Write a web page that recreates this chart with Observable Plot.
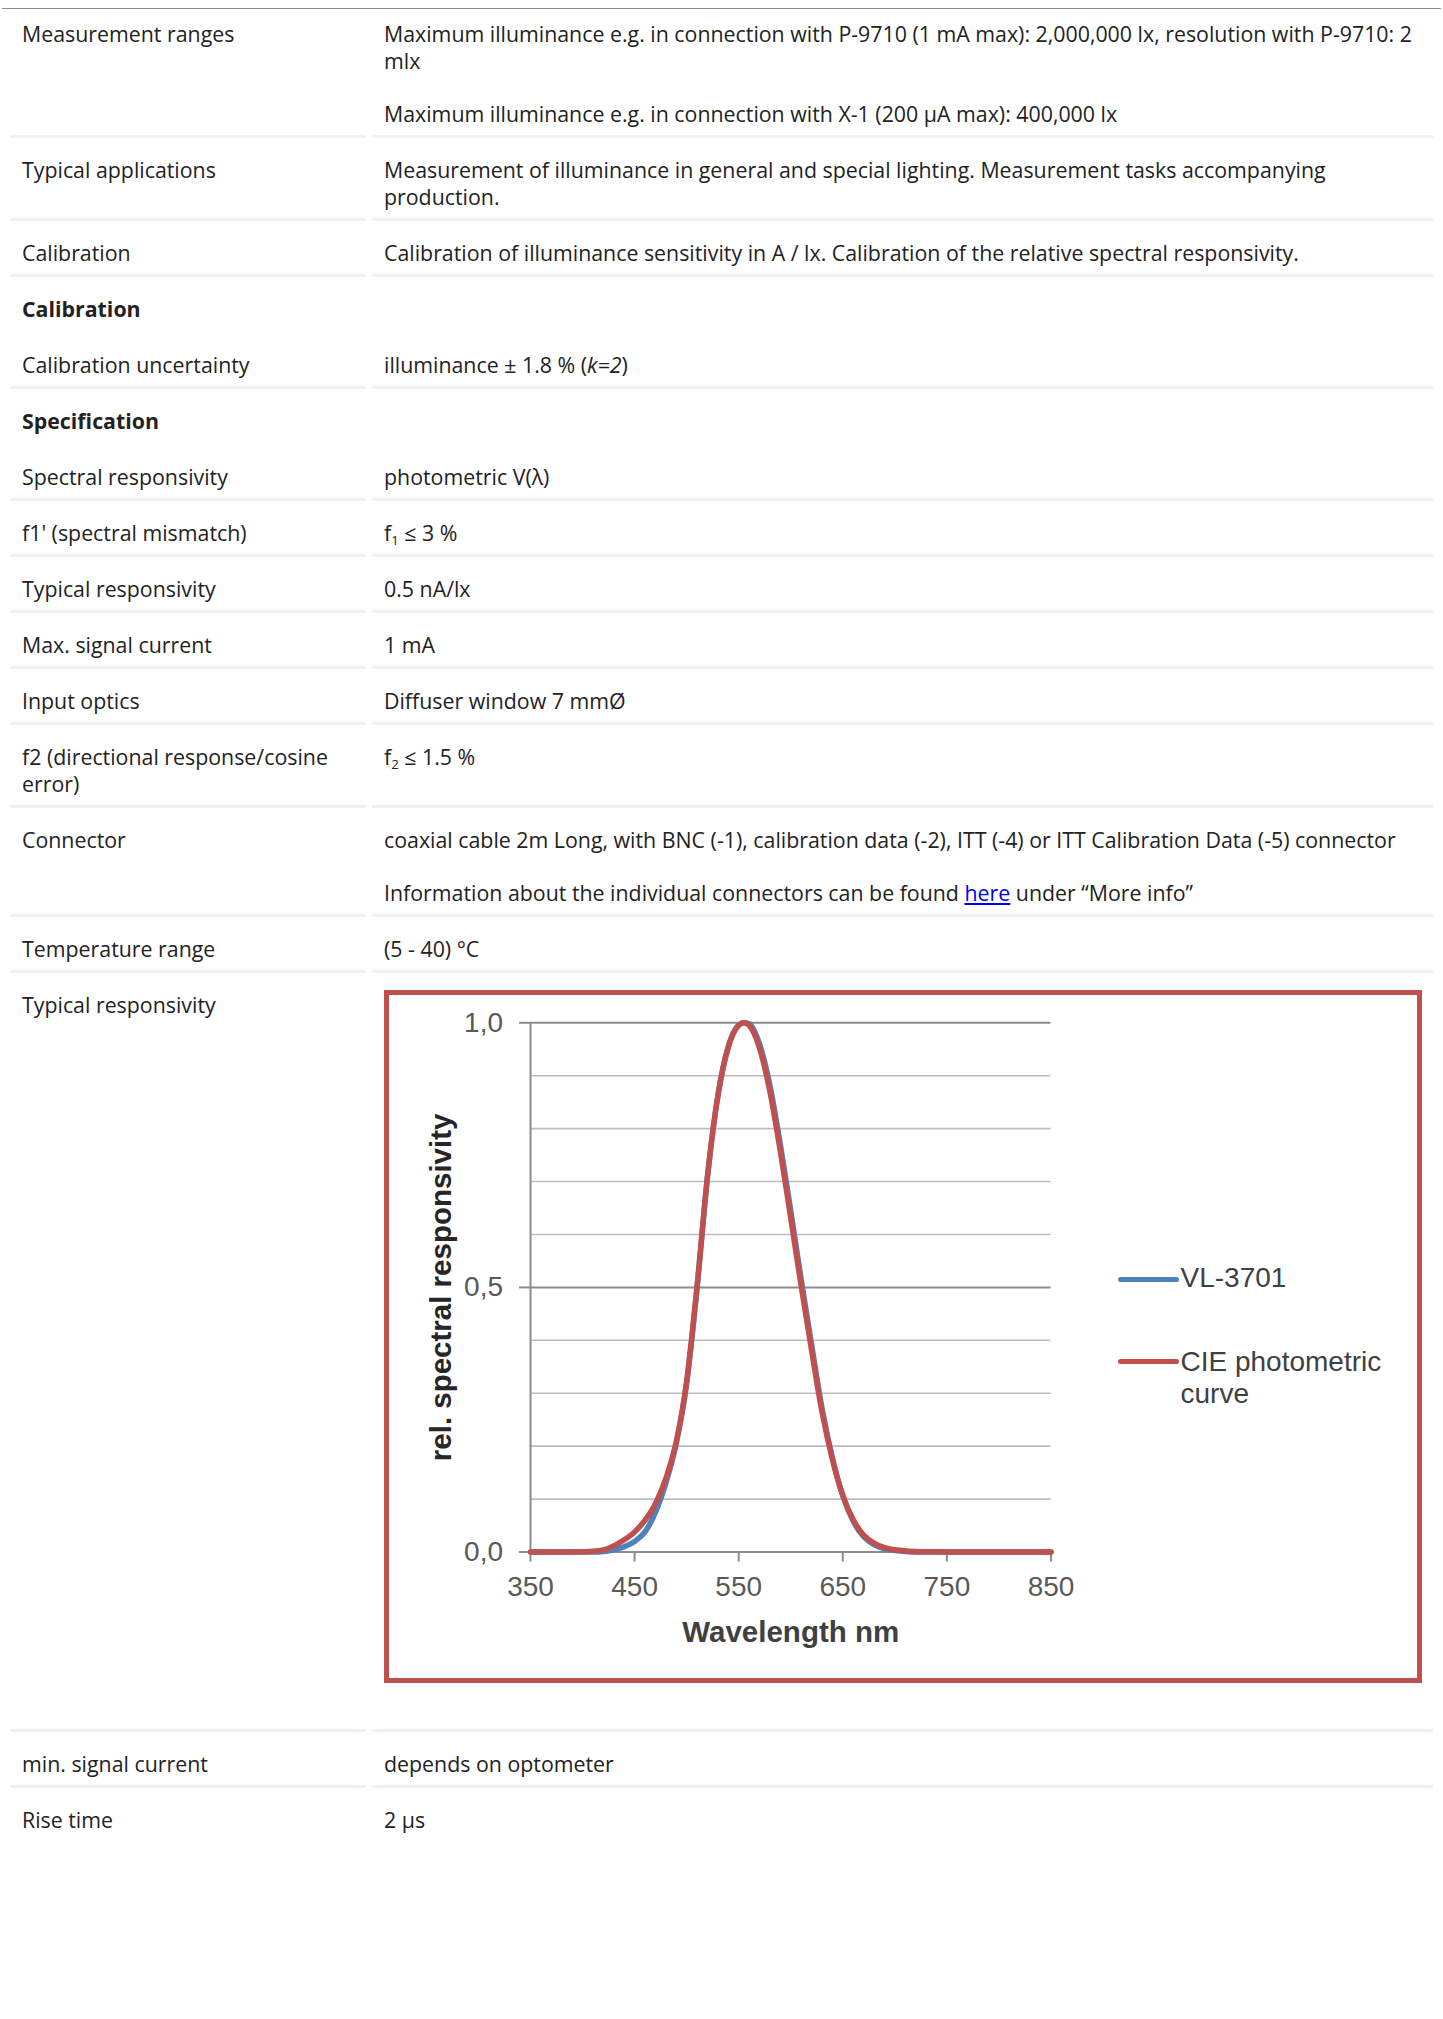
<!DOCTYPE html>
<html>
<head>
<meta charset="utf-8">
<script src="https://cdn.jsdelivr.net/npm/d3@7"></script>
<script src="https://cdn.jsdelivr.net/npm/@observablehq/plot@0.6"></script>
<style>
  html, body { margin: 0; padding: 0; background: #fff; }
  body { font-family: "Open Sans", "Noto Sans", sans-serif; font-size: 21.35px; line-height: 27px; color: #222; }
  #page { position: relative; width: 1443px; height: 2019px; }
  .topline { position: absolute; top: 7.5px; left: 2px; width: 1439px; height: 1px; background: #8c8c8c; }
  .rows { position: absolute; top: 1.5px; left: 10px; }
  .row { display: flex; gap: 6px; }
  .cell { padding: 18px 12px 8px 12px; border-bottom: 3px solid #eef2f6; box-sizing: border-box; }
  .c1 { width: 356px; }
  .c2 { width: 1061px; }
  .row.nob .cell { border-bottom-color: transparent; }
  .nw { white-space: nowrap; }
  p { margin: 0; }
  p + p { margin-top: 26px; }
  b { font-weight: 700; }
  sub { font-size: 0.62em; line-height: 0; vertical-align: -0.3em; }
  a { color: #0000ee; text-decoration: underline; }
  .chartcell { padding-top: 17.5px; }
  .box { position: relative; width: 1038px; height: 693px; border: 5px solid #c0504d; box-sizing: border-box; margin-bottom: 37.5px; }
  .box svg { position: absolute; left: 0; top: 0; }
  .leg-line { position: absolute; height: 5px; border-radius: 3px; }
  .leg-text { position: absolute; font-family: "Liberation Sans", Arial, sans-serif; font-size: 28px; line-height: 32px; color: #404040; white-space: nowrap; }
</style>
</head>
<body>
<div id="page">
  <div class="topline"></div>
  <div class="rows">
    <div class="row">
      <div class="cell c1">Measurement ranges</div>
      <div class="cell c2 nw"><p>Maximum illuminance e.g. in connection with P-9710 (1 mA max): 2,000,000 lx, resolution with P-9710: 2<br>mlx</p><p>Maximum illuminance e.g. in connection with X-1 (200 µA max): 400,000 lx</p></div>
    </div>
    <div class="row">
      <div class="cell c1">Typical applications</div>
      <div class="cell c2 nw">Measurement of illuminance in general and special lighting. Measurement tasks accompanying<br>production.</div>
    </div>
    <div class="row">
      <div class="cell c1">Calibration</div>
      <div class="cell c2">Calibration of illuminance sensitivity in A / lx. Calibration of the relative spectral responsivity.</div>
    </div>
    <div class="row nob">
      <div class="cell c1"><b>Calibration</b></div>
      <div class="cell c2"></div>
    </div>
    <div class="row">
      <div class="cell c1">Calibration uncertainty</div>
      <div class="cell c2">illuminance ± 1.8 % (<i>k=2</i>)</div>
    </div>
    <div class="row nob">
      <div class="cell c1"><b>Specification</b></div>
      <div class="cell c2"></div>
    </div>
    <div class="row">
      <div class="cell c1">Spectral responsivity</div>
      <div class="cell c2">photometric V(λ)</div>
    </div>
    <div class="row">
      <div class="cell c1">f1' (spectral mismatch)</div>
      <div class="cell c2">f<sub>1</sub> ≤ 3 %</div>
    </div>
    <div class="row">
      <div class="cell c1">Typical responsivity</div>
      <div class="cell c2">0.5 nA/lx</div>
    </div>
    <div class="row">
      <div class="cell c1">Max. signal current</div>
      <div class="cell c2">1 mA</div>
    </div>
    <div class="row">
      <div class="cell c1">Input optics</div>
      <div class="cell c2">Diffuser window 7 mmØ</div>
    </div>
    <div class="row">
      <div class="cell c1 nw">f2 (directional response/cosine<br>error)</div>
      <div class="cell c2">f<sub>2</sub> ≤ 1.5 %</div>
    </div>
    <div class="row">
      <div class="cell c1">Connector</div>
      <div class="cell c2 nw"><p>coaxial cable 2m Long, with BNC (-1), calibration data (-2), ITT (-4) or ITT Calibration Data (-5) connector</p><p>Information about the individual connectors can be found <a href="#">here</a> under “More info”</p></div>
    </div>
    <div class="row">
      <div class="cell c1">Temperature range</div>
      <div class="cell c2">(5 - 40) °C</div>
    </div>
    <div class="row">
      <div class="cell c1">Typical responsivity</div>
      <div class="cell c2 chartcell"><div class="box" id="chartbox"></div></div>
    </div>
    <div class="row">
      <div class="cell c1">min. signal current</div>
      <div class="cell c2">depends on optometer</div>
    </div>
    <div class="row nob">
      <div class="cell c1">Rise time</div>
      <div class="cell c2">2 µs</div>
    </div>
  </div>
</div>
<script>
// ---- data ----
const wavelengths = [350,360,370,380,390,400,410,420,430,440,450,460,470,480,490,500,510,520,530,540,550,555,560,570,580,590,600,610,620,630,640,650,660,670,680,690,700,710,720,730,740,750,760,770,780,800,850];
const vl3701 = [0,0,0,0,0,0,0,0.001,0.004,0.010,0.020,0.038,0.075,0.130,0.205,0.318,0.498,0.708,0.862,0.955,0.996,1.0,0.998,0.960,0.882,0.770,0.645,0.515,0.392,0.272,0.178,0.106,0.058,0.029,0.014,0.006,0.003,0.001,0,0,0,0,0,0,0,0,0];
const ciePhotometric = [0,0,0,0.00004,0.00012,0.0004,0.0012,0.004,0.0116,0.023,0.038,0.060,0.091,0.139,0.208,0.323,0.503,0.710,0.862,0.954,0.995,1.0,0.995,0.952,0.870,0.757,0.631,0.503,0.381,0.265,0.175,0.107,0.061,0.032,0.017,0.0082,0.0041,0.0021,0.00105,0.00052,0.00025,0.00012,0.00006,0.00003,0.000015,0,0];
const seriesNames = ["VL-3701", "CIE photometric curve"];
const seriesColors = ["#4f81bd", "#c0504d"];
const xTicks = [350, 450, 550, 650, 750, 850];
const yMajorTicks = [0, 0.5, 1.0];
const yMinorTicks = [0.1, 0.2, 0.3, 0.4, 0.6, 0.7, 0.8, 0.9];
const xTitle = "Wavelength nm";
const yTitle = "rel. spectral responsivity";

const data = [];
wavelengths.forEach((w, i) => data.push({series: seriesNames[0], w, v: vl3701[i]}));
wavelengths.forEach((w, i) => data.push({series: seriesNames[1], w, v: ciePhotometric[i]}));

const axisColor = "#8c8c8c";
const chart = Plot.plot({
  width: 1028,
  height: 683,
  marginLeft: 141,
  marginRight: 366.5,
  marginTop: 27.3,
  marginBottom: 126.5,
  style: {fontFamily: "'Liberation Sans', Arial, sans-serif", background: "transparent", overflow: "visible"},
  x: {domain: [xTicks[0], xTicks[xTicks.length - 1]]},
  y: {domain: [yMajorTicks[0], yMajorTicks[yMajorTicks.length - 1]]},
  color: {domain: seriesNames, range: seriesColors},
  marks: [
    Plot.ruleY(yMinorTicks, {stroke: "#bdbdbd", strokeWidth: 1.6}),
    Plot.ruleY(yMajorTicks, {stroke: axisColor, strokeWidth: 2}),
    Plot.ruleX([xTicks[0]], {stroke: axisColor, strokeWidth: 2}),
    Plot.axisX({ticks: xTicks, tickSize: 10, tickPadding: 14.5, fontSize: 28, fill: "#595959", stroke: axisColor, strokeWidth: 2, label: null, tickFormat: d => String(d)}),
    Plot.axisY({ticks: yMajorTicks, tickSize: 11, tickPadding: 16.5, fontSize: 28, fill: "#595959", stroke: axisColor, strokeWidth: 2, label: null, tickFormat: d => d.toFixed(1).replace(".", ",")}),
    Plot.line(data, {x: "w", y: "v", z: "series", stroke: "series", strokeWidth: 5.5, curve: "monotone-x", strokeLinejoin: "round", strokeLinecap: "round"}),
    Plot.text([xTitle], {text: d => d, frameAnchor: "bottom", textAnchor: "middle", lineAnchor: "middle", dy: 80.5, fontSize: 29.5, fontWeight: "bold", fill: "#404040"}),
    Plot.text([yTitle], {text: d => d, frameAnchor: "left", textAnchor: "middle", lineAnchor: "middle", dx: -88.5, rotate: -90, fontSize: 29.5, fontWeight: "bold", fill: "#262626"})
  ]
});
const box = document.getElementById("chartbox");
box.appendChild(chart);

// legend (HTML, beside the plot)
const legend = [
  {color: seriesColors[0], lineTop: 281.5, textTop: 267, html: "VL-3701"},
  {color: seriesColors[1], lineTop: 364.2, textTop: 351, html: "CIE photometric<br>curve"}
];
legend.forEach(l => {
  const line = document.createElement("div");
  line.className = "leg-line";
  line.style.left = "728.5px";
  line.style.width = "61.5px";
  line.style.top = l.lineTop + "px";
  line.style.background = l.color;
  box.appendChild(line);
  const t = document.createElement("div");
  t.className = "leg-text";
  t.style.left = "791.5px";
  t.style.top = l.textTop + "px";
  t.innerHTML = l.html;
  box.appendChild(t);
});
</script>
</body>
</html>
